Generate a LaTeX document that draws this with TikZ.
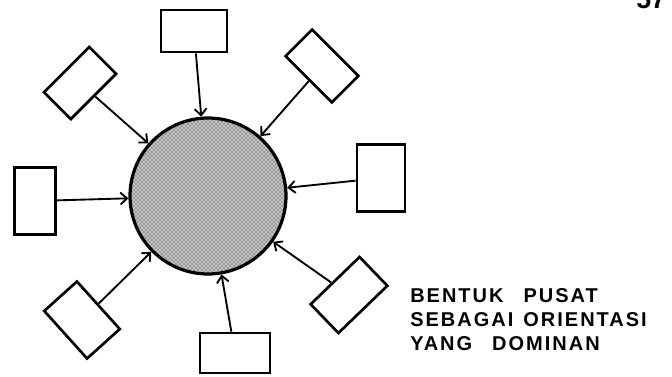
\documentclass[tikz,border=0pt]{standalone}
\usepackage{fontspec}
\setmainfont{Liberation Sans}
\usetikzlibrary{arrows.meta,patterns}

\begin{document}
\begin{tikzpicture}[
  x=0.75pt,y=-0.75pt,
  box/.style={draw,line width=2pt,inner sep=0pt},
  hub/.style={circle,draw,line width=2.4pt,minimum size=117pt,inner sep=0pt,
    preaction={fill=gray!45},pattern=crosshatch dots},
  arr/.style={-{Straight Barb[length=5pt,width=9pt]},line width=1.4pt},
  lbl/.style={font=\bfseries\fontsize{15}{18}\selectfont\addfontfeature{LetterSpace=10},
    align=left,inner sep=0pt}]
\useasboundingbox (0,0) rectangle (672,376);
\node[hub] (pusat) at (208,196) {};
\node[box,minimum width=49.5pt,minimum height=31.5pt] (b1) at (194,31) {};
\node[box,minimum width=49pt,minimum height=28pt,rotate=-45] (b2) at (322,66) {};
\node[box,minimum width=36pt,minimum height=50pt] (b3) at (381,178) {};
\node[box,minimum width=51pt,minimum height=30pt,rotate=44] (b4) at (349,295) {};
\node[box,minimum width=52.5pt,minimum height=30pt] (b5) at (235,353) {};
\node[box,minimum width=48pt,minimum height=33pt,rotate=-48] (b6) at (82,320) {};
\node[box,minimum width=31pt,minimum height=50pt] (b7) at (35,201) {};
\node[box,minimum width=48pt,minimum height=28.5pt,rotate=45] (b8) at (80,83) {};
\node[lbl,anchor=north west] (teks) at (410,288)
  {BENTUK\quad PUSAT\\SEBAGAI\enspace ORIENTASI\\YANG\quad DOMINAN};
\node[font=\bfseries\fontsize{20}{20}\selectfont,anchor=base west,inner sep=0pt] (hal)
  at (636,8) {57};
\draw[arr] (b1)--(pusat);
\draw[arr] (b2)--(pusat);
\draw[arr] (b3)--(pusat);
\draw[arr] (b4)--(pusat);
\draw[arr] (b5)--(pusat);
\draw[arr] (b6)--(pusat);
\draw[arr] (b7)--(pusat);
\draw[arr] (b8)--(pusat);
\end{tikzpicture}
\end{document}
